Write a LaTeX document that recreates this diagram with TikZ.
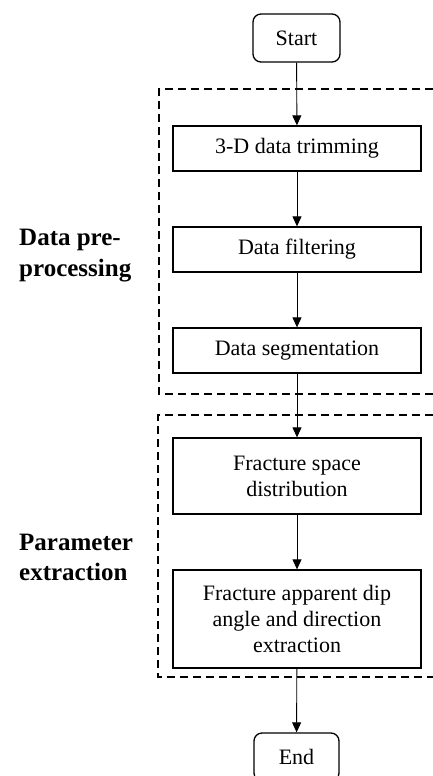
\documentclass[tikz,border=0pt]{standalone}
\usepackage{fontspec}
\setmainfont{Liberation Serif}
\usetikzlibrary{arrows.meta}
\begin{document}
\begin{tikzpicture}[x=1pt,y=-1pt,
  stepbox/.style={draw,line width=1.3pt,minimum width=248pt,inner sep=0pt,align=center,font=\fontsize{22}{26}\selectfont},
  termbox/.style={draw,line width=1.3pt,rounded corners=8pt,inner sep=0pt,font=\fontsize{22}{26}\selectfont},
  conn/.style={line width=0.9pt,-{Triangle[length=10pt,width=9pt]}},
  group/.style={line width=1.4pt,dash pattern=on 8pt off 5pt},
  grouplabel/.style={anchor=base west,inner sep=0pt,font=\bfseries\fontsize{25}{31}\selectfont}]
\useasboundingbox (0,0) rectangle (432,776);
\fill[white] (0,0) rectangle (432,776);
\node[termbox,minimum width=87pt,minimum height=48pt] (start) at (296.5,38) {Start};
\node[stepbox,minimum height=45pt] (b1) at (297,148.5) {3-D data trimming};
\node[stepbox,minimum height=45pt] (b2) at (297,249.5) {Data filtering};
\node[stepbox,minimum height=45pt] (b3) at (297,350.5) {Data segmentation};
\node[stepbox,minimum height=76pt] (b4) at (297,476) {Fracture space\\distribution};
\node[stepbox,minimum height=98pt] (b5) at (297,619) {Fracture apparent dip\\angle and direction\\extraction};
\node[termbox,minimum width=85pt,minimum height=48pt] (end) at (296.5,757) {End};
\coordinate (g1a) at (433,89);
\coordinate (g1b) at (159,89);
\coordinate (g1c) at (159,394);
\coordinate (g1d) at (433,394);
\coordinate (g2a) at (433,415);
\coordinate (g2b) at (158,415);
\coordinate (g2c) at (158,677);
\coordinate (g2d) at (433,677);
\draw[group] (g1a) -- (g1b) -- (g1c) -- (g1d);
\draw[group] (g2a) -- (g2b) -- (g2c) -- (g2d);
\draw[conn] (start) -- (b1);
\draw[conn] (b1) -- (b2);
\draw[conn] (b2) -- (b3);
\draw[conn] (b3) -- (b4);
\draw[conn] (b4) -- (b5);
\draw[conn] (b5) -- (end);
\node[grouplabel] (l1a) at (19,245) {Data pre-};
\node[grouplabel] (l1b) at (19,276) {processing};
\node[grouplabel] (l2a) at (19,550) {Parameter};
\node[grouplabel] (l2b) at (19,580) {extraction};
\end{tikzpicture}
\end{document}
